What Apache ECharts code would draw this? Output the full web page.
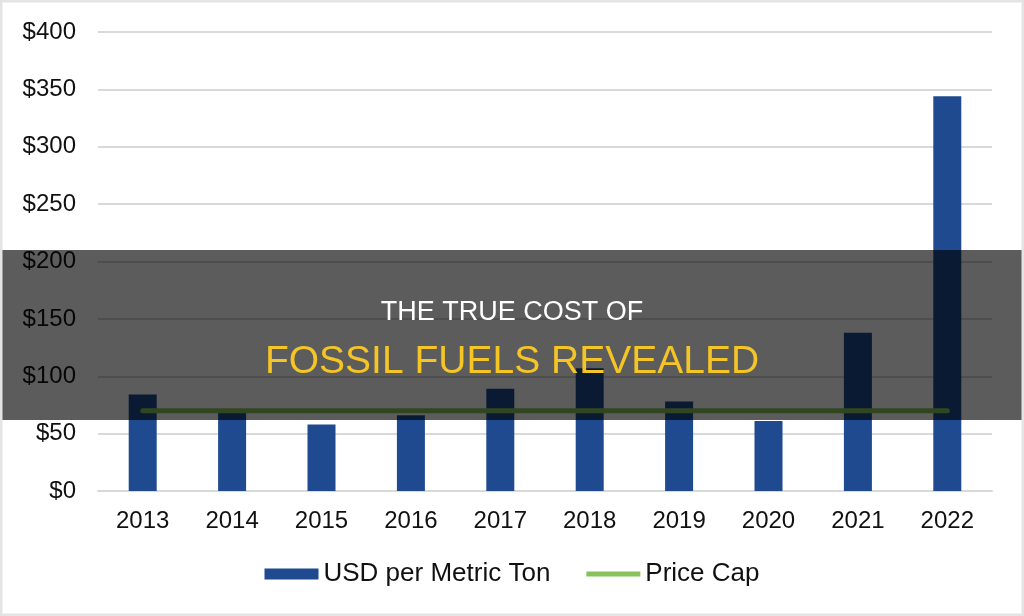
<!DOCTYPE html>
<html>
<head>
<meta charset="utf-8">
<script src="https://cdn.jsdelivr.net/npm/echarts@6/dist/echarts.min.js"></script>
<style>html,body{margin:0;padding:0;background:#fff;}#c{width:1024px;height:616px;}</style>
</head>
<body>
<div id="c"></div>
<script>
const years = ['2013','2014','2015','2016','2017','2018','2019','2020','2021','2022'];
const usdPerTon = [84, 68, 58, 66, 89, 107, 78, 61, 138, 344];
const priceCap = [70, 70, 70, 70, 70, 70, 70, 70, 70, 70];
const yTicks = [0, 50, 100, 150, 200, 250, 300, 350, 400];
const titleLine1 = 'THE TRUE COST OF';
const titleLine2 = 'FOSSIL FUELS REVEALED';

const chart = echarts.init(document.getElementById('c'));
const font = '"Liberation Sans", Arial, sans-serif';
chart.setOption({
  animation: false,
  backgroundColor: '#fff',
  grid: { left: 98, right: 32, top: 32, bottom: 125 },
  xAxis: {
    type: 'category',
    data: years,
    axisLine: { lineStyle: { color: '#d9d9d9', width: 2 } },
    axisTick: { show: false },
    axisLabel: { color: '#111', fontSize: 24, fontFamily: font, margin: 18 }
  },
  yAxis: {
    type: 'value',
    min: yTicks[0],
    max: yTicks[yTicks.length - 1],
    interval: 50,
    axisLine: { show: false },
    axisTick: { show: false },
    splitLine: { lineStyle: { color: '#d9d9d9', width: 2 } },
    axisLabel: { color: '#111', fontSize: 24, fontFamily: font, margin: 22, formatter: v => '$' + v }
  },
  legend: {
    bottom: 24,
    left: 'center',
    itemWidth: 54,
    itemHeight: 11,
    itemGap: 36,
    textStyle: { color: '#111', fontSize: 26, fontFamily: font },
    data: [
      { name: 'USD per Metric Ton', icon: 'rect' },
      { name: 'Price Cap', icon: 'path://M0,0 L60,0 L60,5.5 L0,5.5 Z' }
    ]
  },
  series: [
    {
      name: 'USD per Metric Ton',
      type: 'bar',
      data: usdPerTon,
      barWidth: 28,
      itemStyle: { color: '#1f4a8f' }
    },
    {
      name: 'Price Cap',
      type: 'line',
      data: priceCap,
      symbol: 'none',
      lineStyle: { color: '#86c35a', width: 5, cap: 'round' },
      itemStyle: { color: '#86c35a' }
    }
  ],
  graphic: [
    { type: 'rect', z: 100, shape: { x: 0, y: 250, width: 1024, height: 170 }, style: { fill: 'rgba(0,0,0,0.64)' } },
    { type: 'text', z: 101, x: 512, y: 313, style: { text: titleLine1, fill: '#ffffff', font: '27px "Liberation Sans", Arial, sans-serif', textAlign: 'center', textVerticalAlign: 'middle' } },
    { type: 'text', z: 101, x: 512, y: 362, style: { text: titleLine2, fill: '#f5c425', font: '39px "Liberation Sans", Arial, sans-serif', textAlign: 'center', textVerticalAlign: 'middle' } },
    { type: 'rect', z: 102, shape: { x: 1, y: 1, width: 1022, height: 614 }, style: { fill: 'none', stroke: '#e4e4e4', lineWidth: 3 } }
  ]
});
</script>
</body>
</html>
